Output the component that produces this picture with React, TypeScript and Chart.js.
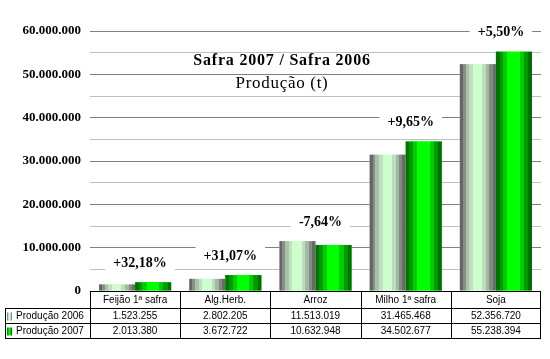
import React, { useEffect, useRef } from "react";
import { Chart, registerables } from "chart.js";

Chart.register(...registerables);

const categories = ["Feijão 1ª safra", "Alg.Herb.", "Arroz", "Milho 1ª safra", "Soja"];
const seriesLabels = ["Produção 2006", "Produção 2007"];
const prod2006 = [1523255, 2802205, 11513019, 31465468, 52356720];
const prod2007 = [2013380, 3672722, 10632948, 34502677, 55238394];
const variationLabels = ["+32,18%", "+31,07%", "-7,64%", "+9,65%", "+5,50%"];
const titleLines = ["Safra 2007 / Safra 2006", "Produção (t)"];
const yMax = 60000000;
const yStep = 5000000;
const yLabelStep = 10000000;

const stripes2006: [number, number, string][] = [
  [0, 0.08, "#666666"],
  [0.08, 0.16, "#8c8c8c"],
  [0.16, 0.26, "#a4c4a4"],
  [0.26, 0.36, "#c0e0c0"],
  [0.36, 0.62, "#ccffcc"],
  [0.62, 0.72, "#c0dcc0"],
  [0.72, 0.82, "#a0bca0"],
  [0.82, 0.91, "#888888"],
  [0.91, 1, "#6a6a6a"],
];
const stripes2007: [number, number, string][] = [
  [0, 0.1, "#007400"],
  [0.1, 0.2, "#009a00"],
  [0.2, 0.32, "#00cc00"],
  [0.32, 0.66, "#00ff00"],
  [0.66, 0.78, "#00cc00"],
  [0.78, 0.9, "#009900"],
  [0.9, 1, "#007000"],
];
const stripeSets = [stripes2006, stripes2007];

function fmt(n: number): string {
  const s = Math.round(n).toString();
  return s.replace(/\B(?=(\d{3})+(?!\d))/g, ".");
}

function fillStripes(ctx: CanvasRenderingContext2D, x0: number, y0: number, w: number, h: number, stripes: [number, number, string][]) {
  const g = ctx.createLinearGradient(x0, 0, x0 + w, 0);
  for (const [a, b, c] of stripes) {
    g.addColorStop(a, c);
    g.addColorStop(b, c);
  }
  ctx.fillStyle = g;
  ctx.fillRect(x0, y0, w, h);
}

const customPlugin = {
  id: "custom",
  afterDatasetsDraw(chart: any) {
    const ctx: CanvasRenderingContext2D = chart.ctx;
    ctx.save();
    chart.data.datasets.forEach((_: any, di: number) => {
      const meta = chart.getDatasetMeta(di);
      meta.data.forEach((el: any) => {
        const p = el.getProps(["x", "y", "base", "width"], true);
        const left = p.x - p.width / 2;
        const top = Math.min(p.y, p.base);
        const h = Math.abs(p.base - p.y);
        fillStripes(ctx, left, top, p.width, h, stripeSets[di]);
      });
    });
    const xs = chart.scales.x;
    ctx.font = "bold 14px 'Liberation Serif', serif";
    ctx.textAlign = "center";
    ctx.textBaseline = "middle";
    variationLabels.forEach((lbl, i) => {
      const e0 = chart.getDatasetMeta(0).data[i];
      const e1 = chart.getDatasetMeta(1).data[i];
      const topY = Math.min(e0.y, e1.y);
      const cx = xs.getPixelForValue(i) + 5;
      const cy = topY - 19;
      const w = ctx.measureText(lbl).width + 16;
      ctx.fillStyle = "#ffffff";
      ctx.fillRect(cx - w / 2, cy - 10, w, 20);
      ctx.fillStyle = "#000000";
      ctx.fillText(lbl, cx, cy);
    });
    ctx.restore();
  },
  afterDraw(chart: any) {
    const ctx: CanvasRenderingContext2D = chart.ctx;
    const area = chart.chartArea;
    const xs = chart.scales.x;
    const n = categories.length;
    const catW = (area.right - area.left) / n;
    ctx.save();
    ctx.fillStyle = "#000";
    ctx.textAlign = "center";
    ctx.textBaseline = "middle";
    ctx.font = "bold 16px 'Liberation Serif', serif";
    (ctx as any).letterSpacing = "0.8px";
    ctx.fillText(titleLines[0], 282, 61);
    ctx.font = "17px 'Liberation Serif', serif";
    (ctx as any).letterSpacing = "0.7px";
    ctx.fillText(titleLines[1], 282, 84);
    (ctx as any).letterSpacing = "0px";

    const t0 = Math.round(area.bottom);
    const r1 = t0 + 17;
    const r2 = r1 + 15;
    const r3 = r2 + 15;
    const tableLeft = 5;
    const colLeft = Math.round(area.left);
    const bounds: number[] = [];
    for (let i = 0; i < n; i++) bounds.push(Math.round(xs.getPixelForValue(i) - catW / 2));
    bounds.push(Math.round(xs.getPixelForValue(n - 1) + catW / 2) - 1);
    const right = bounds[n];
    ctx.strokeStyle = "#000";
    ctx.lineWidth = 1;
    ctx.beginPath();
    ctx.moveTo(colLeft, t0 + 0.5);
    ctx.lineTo(right + 1, t0 + 0.5);
    [r1, r2, r3].forEach((yy) => {
      ctx.moveTo(tableLeft, yy + 0.5);
      ctx.lineTo(right + 1, yy + 0.5);
    });
    ctx.moveTo(tableLeft + 0.5, r1);
    ctx.lineTo(tableLeft + 0.5, r3 + 1);
    bounds.forEach((bx) => {
      ctx.moveTo(bx + 0.5, t0);
      ctx.lineTo(bx + 0.5, r3 + 1);
    });
    ctx.stroke();

    ctx.font = "10px 'Liberation Sans', Arial, sans-serif";
    ctx.textAlign = "center";
    ctx.textBaseline = "middle";
    ctx.fillStyle = "#000";
    const rowsY = [(t0 + r1) / 2 + 1, (r1 + r2) / 2 + 1, (r2 + r3) / 2 + 1];
    categories.forEach((c, i) => {
      const cx = xs.getPixelForValue(i);
      ctx.fillText(c, cx, rowsY[0]);
      ctx.fillText(fmt(prod2006[i]), cx, rowsY[1]);
      ctx.fillText(fmt(prod2007[i]), cx, rowsY[2]);
    });
    ctx.textAlign = "left";
    ctx.font = "10px 'Liberation Sans', Arial, sans-serif";
    seriesLabels.forEach((s, si) => {
      const y = rowsY[si + 1];
      fillStripes(ctx, 7, y - 4, 5, 8, stripeSets[si]);
      ctx.fillStyle = "#000";
      ctx.fillText(s, 16, y);
    });
    ctx.restore();
  },
};

export default function App() {
  const ref = useRef<HTMLCanvasElement | null>(null);
  useEffect(() => {
    document.body.style.margin = "0";
    const canvas = ref.current;
    if (!canvas) return;
    const chart = new Chart(canvas, {
      type: "bar",
      data: {
        labels: categories,
        datasets: [
          { label: seriesLabels[0], data: prod2006, backgroundColor: "#ccffcc", borderWidth: 0 },
          { label: seriesLabels[1], data: prod2007, backgroundColor: "#00ff00", borderWidth: 0 },
        ],
      },
      options: {
        responsive: false,
        animation: false,
        devicePixelRatio: 1,
        layout: { padding: { top: 31, right: 9, bottom: 68, left: 0 } },
        datasets: { bar: { categoryPercentage: 0.8, barPercentage: 1.0 } },
        plugins: {
          legend: { display: false },
          title: { display: false },
          tooltip: { enabled: false },
        },
        scales: {
          x: {
            display: false,
            grid: { display: false },
          },
          y: {
            min: 0,
            max: yMax,
            afterFit: (scale: any) => {
              scale.width = 90;
            },
            border: { display: false },
            grid: {
              drawTicks: false,
              tickLength: 0,
              color: (c: any) => {
                const v = c.tick ? c.tick.value : 0;
                if (v === 0) return "rgba(0,0,0,0)";
                return v % yLabelStep === 0 ? "#808080" : "#c0c0c0";
              },
              lineWidth: 1,
            },
            ticks: {
              stepSize: yStep,
              padding: 9,
              color: "#000",
              font: { family: "'Liberation Serif', serif", size: 13, weight: "bold" },
              callback: (v: any) => (Number(v) % yLabelStep === 0 ? fmt(Number(v)) : ""),
            },
          },
        },
      },
      plugins: [customPlugin],
    });
    return () => chart.destroy();
  }, []);
  return (
    <div style={{ position: "absolute", left: 0, top: 0, width: 550, height: 359, background: "#fff" }}>
      <canvas ref={ref} width={550} height={359} style={{ display: "block" }} />
    </div>
  );
}
